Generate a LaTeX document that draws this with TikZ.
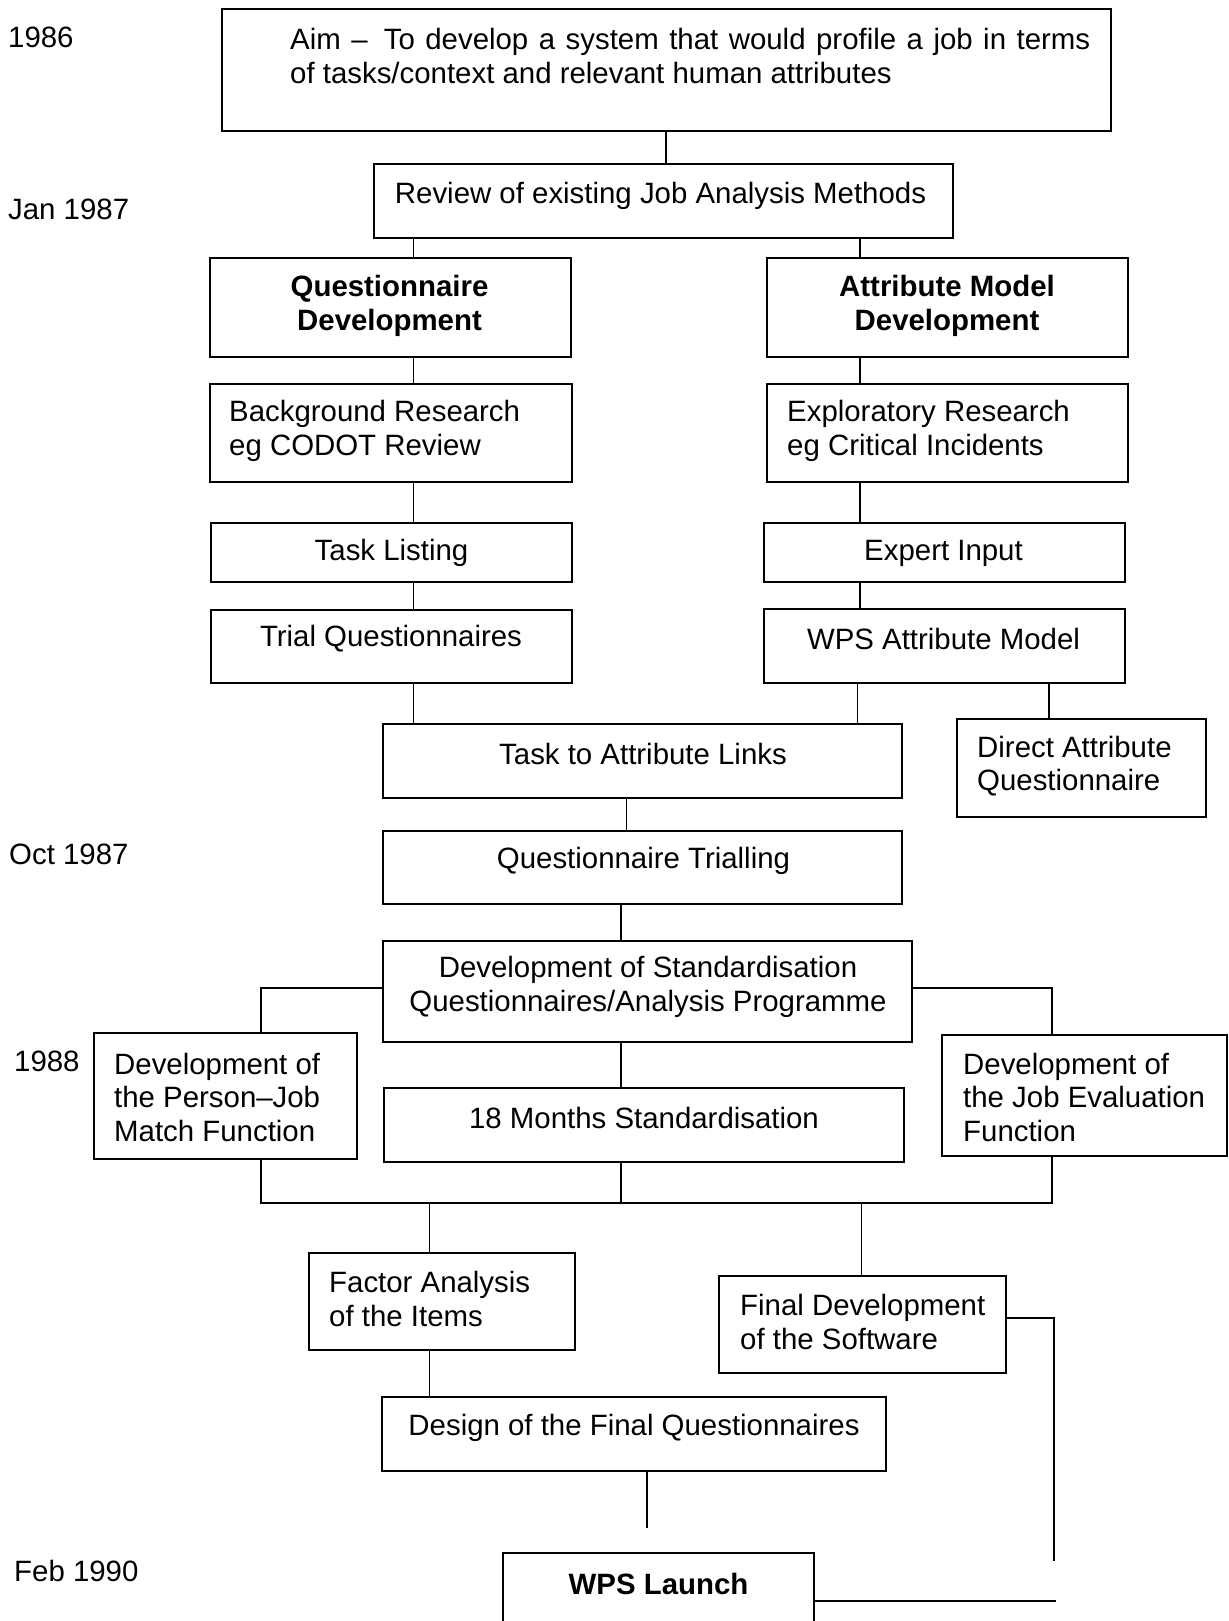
\documentclass[tikz,border=0pt]{standalone}
\usepackage{fontspec}
\setmainfont{Liberation Sans}
\usetikzlibrary{fit}
\begin{document}
\begin{tikzpicture}[x=1pt,y=-1pt,
  bx/.style={draw, line width=2pt, inner sep=0pt, rectangle},
  ln/.style={line width=1.4pt},
  tx/.style={inner sep=0pt, font=\fontsize{29.4}{33.5}\selectfont},
  txl/.style={tx, align=left, anchor=west},
  txc/.style={tx, align=center, anchor=center}]
\useasboundingbox (0,0) rectangle (1228,1621);
\clip (0,0) rectangle (1228,1621);
\fill[white] (0,0) rectangle (1228,1621);

% columns and rows for connectors
\coordinate (cL) at (413.5,0);
\coordinate (cR) at (860,0);
\coordinate (cR2) at (857.5,0);
\coordinate (cD) at (1049,0);
\coordinate (cM1) at (626.5,0);
\coordinate (cM) at (621,0);
\coordinate (cPJ) at (261,0);
\coordinate (cJE) at (1052,0);
\coordinate (cFA) at (429.5,0);
\coordinate (cFD) at (861.5,0);
\coordinate (rowA) at (0,988);
\coordinate (bus) at (0,1203);
\coordinate (rowF) at (0,1318);
\coordinate (dEnd) at (647,1528);
\coordinate (fEnd) at (1054,1561);
\coordinate (lEnd) at (1056,1601);

% boxes
\node[bx, fit={(221.6,9.3) (1110.5,130.7)}] (aim) {};
\node[bx, fit={(374,164) (953,238)}] (review) {};
\node[bx, fit={(210,258) (571,357)}] (qdev) {};
\node[bx, fit={(767,258) (1128,357)}] (amdev) {};
\node[bx, fit={(210,384) (572,482)}] (bg) {};
\node[bx, fit={(767,384) (1128,482)}] (expl) {};
\node[bx, fit={(211,523) (572,582)}] (task) {};
\node[bx, fit={(764,523) (1125,582)}] (expert) {};
\node[bx, fit={(211,610) (572,683)}] (trial) {};
\node[bx, fit={(764,609) (1125,683)}] (wpsm) {};
\node[bx, fit={(383,724) (902,798)}] (ttal) {};
\node[bx, fit={(957,719) (1206,817)}] (direct) {};
\node[bx, fit={(383,831) (902,904)}] (qtrial) {};
\node[bx, fit={(383,941) (912,1042)}] (devstd) {};
\node[bx, fit={(94,1033) (357,1159)}] (pj) {};
\node[bx, fit={(384,1088) (904,1162)}] (m18) {};
\node[bx, fit={(942,1035) (1227,1156)}] (je) {};
\node[bx, fit={(309,1253) (575,1350)}] (fa) {};
\node[bx, fit={(719,1276) (1006,1373)}] (fd) {};
\node[bx, fit={(382,1397) (886,1471)}] (design) {};
\node[bx, fit={(503,1553) (814,1660)}] (launch) {};

% texts
\node[txl] (aimT) at (290,56) {\makebox[800pt][s]{Aim –\hspace{0.55em}To develop a system that would profile a job in terms}\\of tasks/context and relevant human attributes};
\node[txc] (reviewT) at (660.5,196) {Review of existing Job Analysis Methods};
\node[txc, font=\fontsize{29.4}{34.5}\selectfont\bfseries] (qdevT) at (389.5,306) {Questionnaire\\Development};
\node[txc, font=\fontsize{29.4}{34.5}\selectfont\bfseries] (amdevT) at (947,306) {Attribute Model\\Development};
\node[txl] (bgT) at (229,431) {Background Research\\eg CODOT Review};
\node[txl] (explT) at (787,431) {Exploratory Research\\eg Critical Incidents};
\node[txc] (taskT) at (391.5,553) {Task Listing};
\node[txc] (expertT) at (943.5,553) {Expert Input};
\node[txc] (trialT) at (391,639) {Trial Questionnaires};
\node[txc] (wpsmT) at (943.5,639) {WPS Attribute Model};
\node[txc] (ttalT) at (643,754) {Task to Attribute Links};
\node[txl] (directT) at (977,766) {Direct Attribute\\Questionnaire};
\node[txc] (qtrialT) at (643.5,861) {Questionnaire Trialling};
\node[txc] (devstdT) at (648,987) {Development of Standardisation\\Questionnaires/Analysis Programme};
\node[txl] (pjT) at (114,1097) {Development of\\the Person–Job\\Match Function};
\node[txc] (m18T) at (644,1118) {18 Months Standardisation};
\node[txl] (jeT) at (963,1097) {Development of\\the Job Evaluation\\Function};
\node[txl] (faT) at (329,1299) {Factor Analysis\\of the Items};
\node[txl] (fdT) at (740,1322) {Final Development\\of the Software};
\node[txc] (designT) at (634,1428) {Design of the Final Questionnaires};
\node[txc, font=\fontsize{29.4}{33.5}\selectfont\bfseries] (launchT) at (658.5,1584) {WPS Launch};

% dates
\node[txl] (d1986) at (8,37) {1986};
\node[txl] (d1987a) at (8,209) {Jan 1987};
\node[txl] (d1987b) at (9,854) {Oct 1987};
\node[txl] (d1988) at (14,1061) {1988};
\node[txl] (d1990) at (14,1571) {Feb 1990};

% connectors
\draw[ln] (aim.south) -- (aim.south |- review.north);
\draw[ln] (review.south -| cL) -- (qdev.north -| cL);
\draw[ln] (review.south -| cR) -- (amdev.north -| cR);
\draw[ln] (qdev.south -| cL) -- (bg.north -| cL);
\draw[ln] (bg.south -| cL) -- (task.north -| cL);
\draw[ln] (task.south -| cL) -- (trial.north -| cL);
\draw[ln] (amdev.south -| cR) -- (expl.north -| cR);
\draw[ln] (expl.south -| cR) -- (expert.north -| cR);
\draw[ln] (expert.south -| cR) -- (wpsm.north -| cR);
\draw[ln] (trial.south -| cL) -- (ttal.north -| cL);
\draw[ln] (wpsm.south -| cR2) -- (ttal.north -| cR2);
\draw[ln] (wpsm.south -| cD) -- (direct.north -| cD);
\draw[ln] (ttal.south -| cM1) -- (qtrial.north -| cM1);
\draw[ln] (qtrial.south -| cM) -- (devstd.north -| cM);
\draw[ln] (devstd.west |- rowA) -| (pj.north -| cPJ);
\draw[ln] (devstd.east |- rowA) -| (je.north -| cJE);
\draw[ln] (devstd.south -| cM) -- (m18.north -| cM);
\draw[ln] (pj.south -| cPJ) |- (bus -| cJE) -- (je.south -| cJE);
\draw[ln] (m18.south -| cM) -- (bus -| cM);
\draw[ln] (bus -| cFA) -- (fa.north -| cFA);
\draw[ln] (bus -| cFD) -- (fd.north -| cFD);
\draw[ln] (fa.south -| cFA) -- (design.north -| cFA);
\draw[ln] (design.south -| dEnd) -- (dEnd);
\draw[ln] (fd.east |- rowF) -| (fEnd);
\draw[ln] (launch.east |- lEnd) -- (lEnd);
\end{tikzpicture}
\end{document}
